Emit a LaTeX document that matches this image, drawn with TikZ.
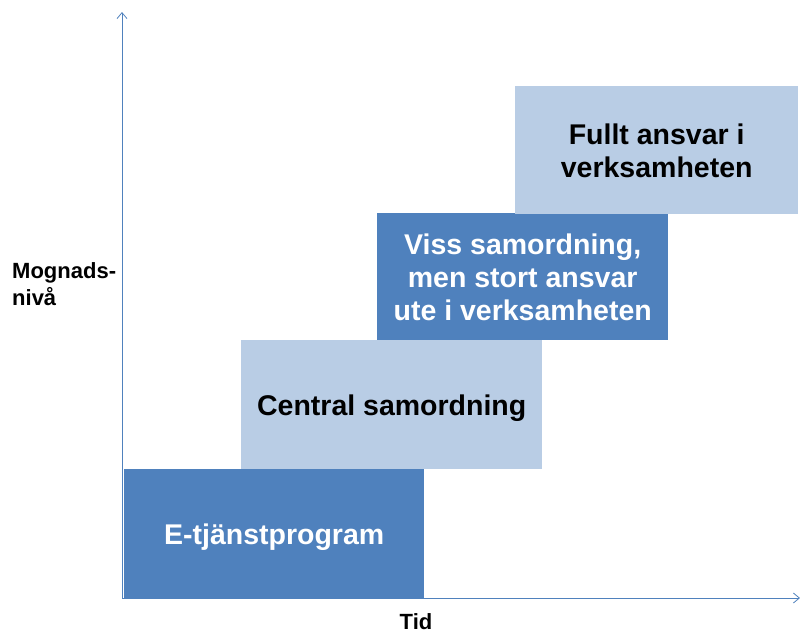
\documentclass[tikz,border=0pt]{standalone}
\usepackage{fontspec}
\setmainfont{Liberation Sans}
\usepackage{xcolor}
\usetikzlibrary{positioning,shapes,arrows.meta}
\definecolor{morkbla}{HTML}{4F81BD}
\definecolor{ljusbla}{HTML}{B9CDE5}

\begin{document}
\begin{tikzpicture}[x=1pt,y=-1pt]
\useasboundingbox (0,0) rectangle (800,635);
\tikzstyle{steg}=[anchor=north west,inner sep=0pt,align=center,text depth=0pt,font=\fontsize{28.5}{33}\selectfont\bfseries]
\tikzstyle{axel}=[draw=morkbla,line width=0.8pt,-{Straight Barb[length=6pt,width=10pt]}]
\tikzstyle{etikett}=[font=\fontsize{22}{27}\selectfont\bfseries,align=left,inner sep=0pt]

\coordinate (origo) at (122,598);
\coordinate (ytopp) at (122,12);
\coordinate (xslut) at (800,598);

\node[steg,fill=morkbla,text=white,minimum width=300,minimum height=129] (s1) at (124,469) {E-tjänstprogram};
\node[steg,fill=ljusbla,minimum width=301,minimum height=129] (s2) at (241,340) {Central samordning};
\node[steg,fill=morkbla,text=white,minimum width=291,minimum height=127] (s3) at (377,213) {Viss samordning,\\men stort ansvar\\ute i verksamheten};
\node[steg,fill=ljusbla,minimum width=283,minimum height=128] (s4) at (515,86) {Fullt ansvar i\\verksamheten};

\draw[axel] (origo) -- (ytopp);
\draw[axel] (origo) -- (xslut);

\node[etikett,anchor=west] (niva) at (12,284) {Mognads-\\nivå};
\node[etikett] (tid) at (416,622) {Tid};
\end{tikzpicture}
\end{document}
